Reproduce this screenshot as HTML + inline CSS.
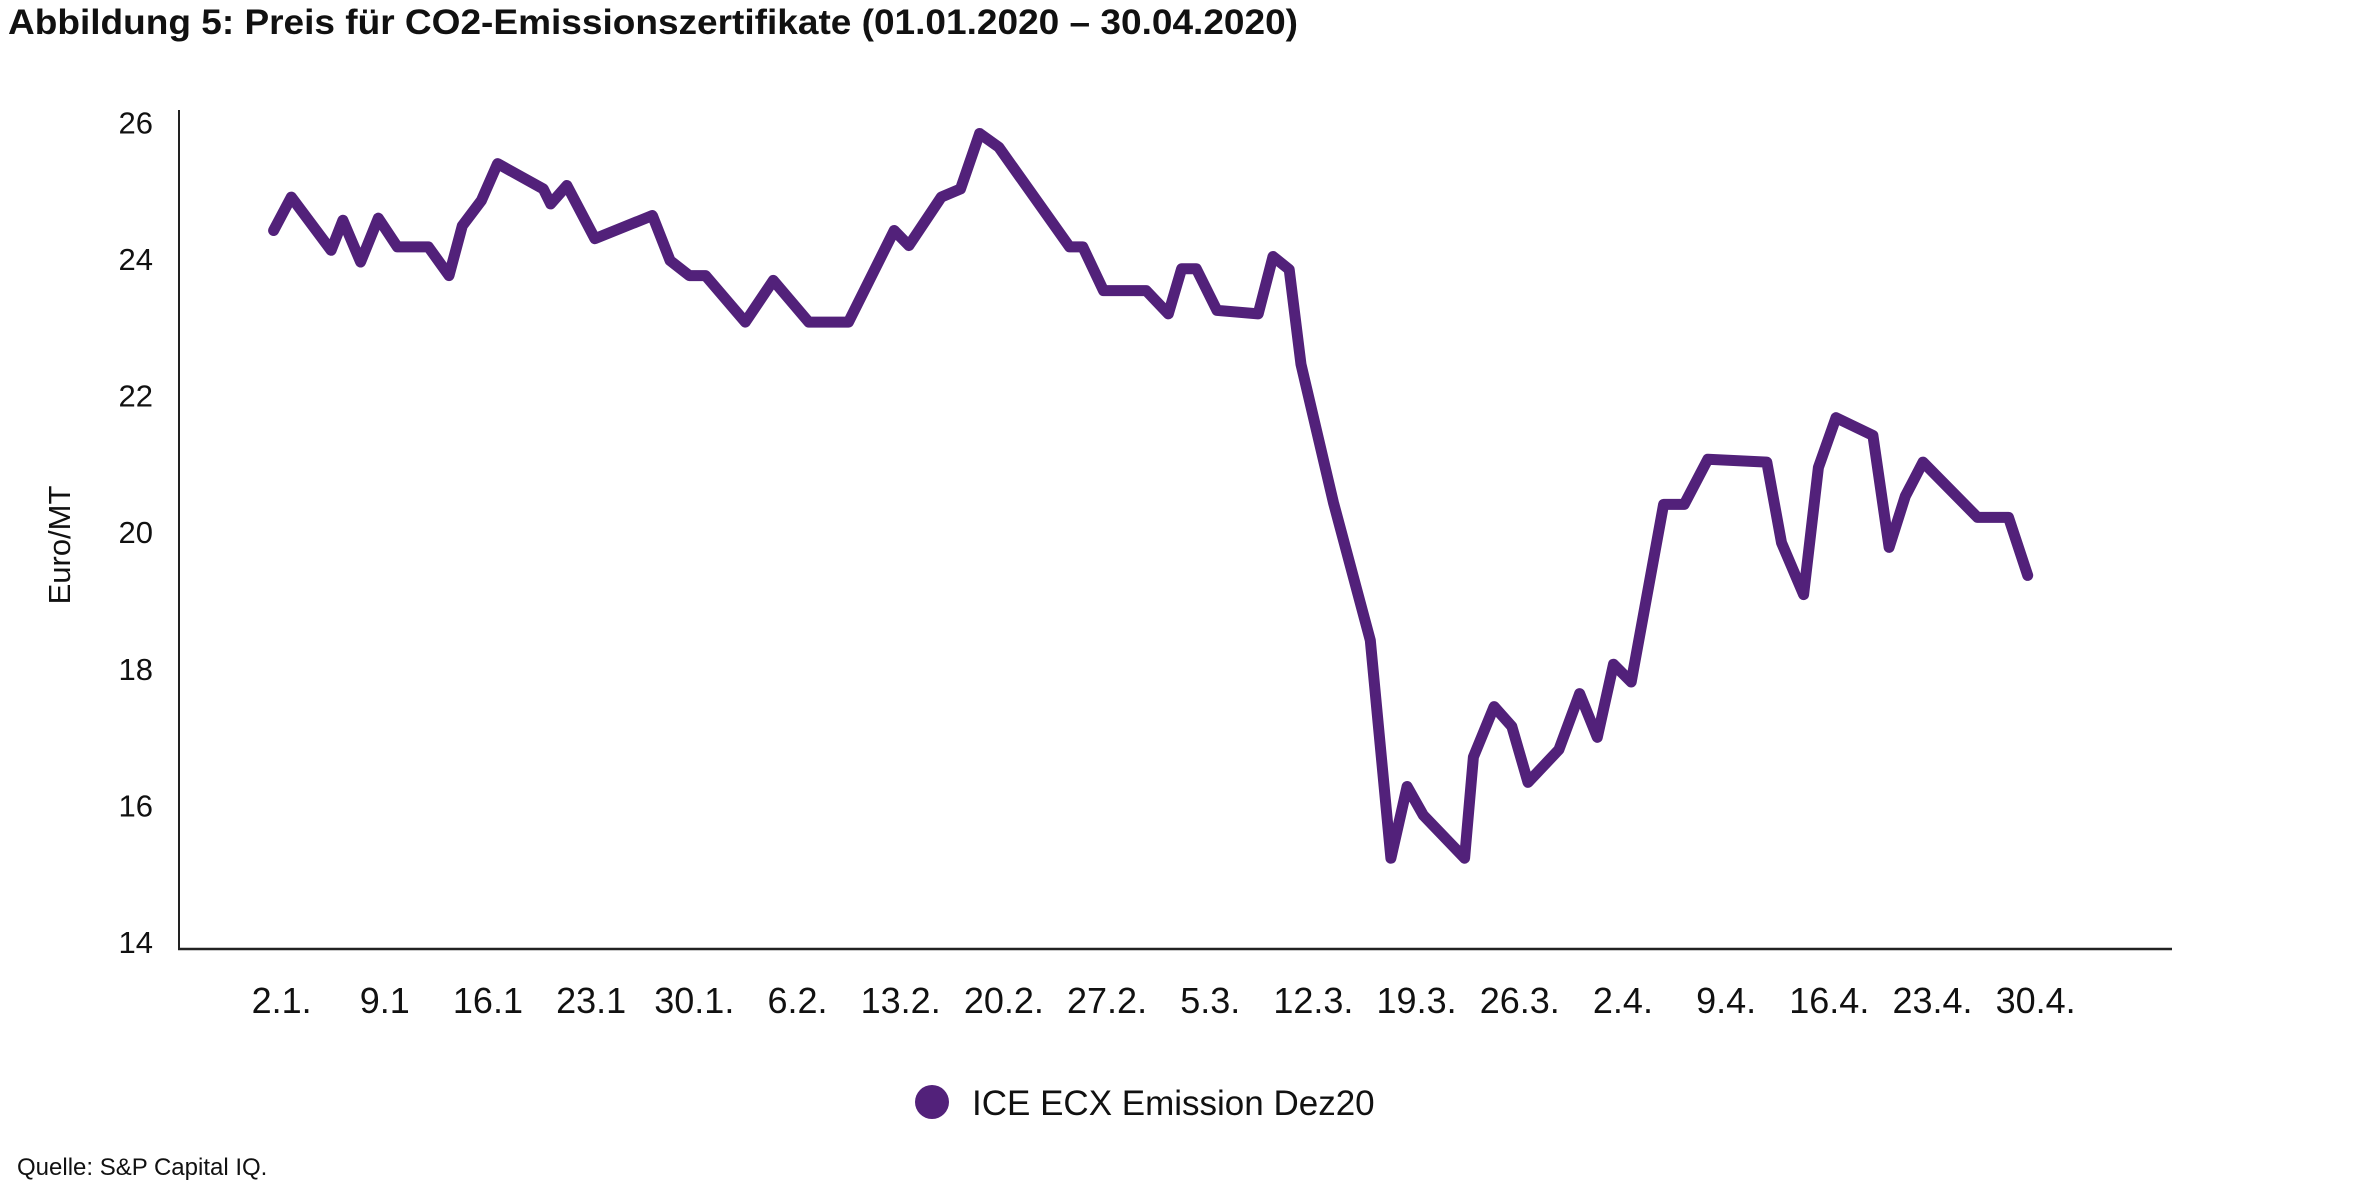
<!DOCTYPE html>
<html><head><meta charset="utf-8"><style>
html,body{margin:0;padding:0;background:#fff;}
svg{display:block;}
text{font-family:"Liberation Sans Narrow","Liberation Sans",sans-serif;fill:#111;}
</style></head><body>
<svg id="chart" width="2362" height="1181" viewBox="0 0 2362 1181">
<text x="8" y="34" font-size="35" font-weight="bold" textLength="1290" lengthAdjust="spacingAndGlyphs" style="font-family:'Liberation Sans',sans-serif">Abbildung 5: Preis für CO2-Emissionszertifikate (01.01.2020 – 30.04.2020)</text>
<g id="axes"></g>
<g id="series"></g>
<text x="0" y="0" font-size="31" transform="translate(70,545) rotate(-90)" text-anchor="middle">Euro/MT</text>
<circle cx="932" cy="1102" r="17" fill="#52217a"/>
<text x="972" y="1115" font-size="35">ICE ECX Emission Dez20</text>
<text x="17" y="1175" font-size="24">Quelle: S&amp;P Capital IQ.</text>
</svg>
<script>
// days since 2 Jan 2020
const dayPos = [0,1.2,3.9,4.7,5.9,7.1,8.4,10.5,11.9,12.8,14.1,15.2,18.3,18.8,19.9,21.8,25.7,26.9,28.2,29.3,32.0,33.9,36.3,39.0,42.1,43.1,45.3,46.6,47.9,49.2,54.0,54.9,56.3,59.2,60.7,61.6,62.6,64.0,66.8,67.8,68.9,69.7,71.9,74.4,75.8,76.9,78.0,80.8,81.4,82.8,84.0,85.1,87.2,88.6,89.8,90.9,92.1,94.3,95.7,97.3,101.3,102.3,103.8,104.8,106.0,108.5,109.6,110.7,111.9,115.6,117.7,119.0];
const prices = [24.49,24.98,24.20,24.64,24.03,24.67,24.25,24.25,23.83,24.56,24.93,25.47,25.10,24.88,25.15,24.37,24.71,24.05,23.83,23.83,23.15,23.76,23.15,23.15,24.49,24.27,24.98,25.10,25.91,25.71,24.25,24.25,23.61,23.61,23.27,23.93,23.93,23.32,23.27,24.11,23.92,22.53,20.51,18.49,15.30,16.35,15.93,15.30,16.78,17.52,17.23,16.41,16.89,17.71,17.07,18.14,17.88,20.48,20.48,21.14,21.10,19.92,19.16,21.02,21.75,21.49,19.85,20.60,21.10,20.29,20.29,19.44];
const xTickDays = [0,7,14,21,28,35,42,49,56,63,70,77,84,91,98,105,112,119];
const xTickLabels = ["2.1.","9.1","16.1","23.1","30.1.","6.2.","13.2.","20.2.","27.2.","5.3.","12.3.","19.3.","26.3.","2.4.","9.4.","16.4.","23.4.","30.4."];
const yTicks = [14,16,18,20,22,24,26];

const NS="http://www.w3.org/2000/svg";
const x = d => 273.6 + d*14.74;
const y = v => 947 - (v-14)*68.3;
const axes=document.getElementById('axes');
const ser=document.getElementById('series');
function mk(tag,attrs,parent){const e=document.createElementNS(NS,tag);for(const k in attrs)e.setAttribute(k,attrs[k]);parent.appendChild(e);return e;}

const ya=mk('line',{x1:179,y1:110,x2:179,y2:949,stroke:'#222','stroke-width':2},axes);


const xa=mk('line',{x1:178,y1:949,x2:2172,y2:949,stroke:'#222','stroke-width':2.5},axes);



yTicks.forEach(v=>{
  const t=mk('text',{x:153,y:y(v)+6,'font-size':31,'text-anchor':'end'},axes);
  t.textContent=v;
  
  
});
xTickDays.forEach((d,i)=>{
  const t=mk('text',{x:x(d)+8,y:1013,'font-size':36,'text-anchor':'middle'},axes);
  t.textContent=xTickLabels[i];
  
  
});
const pts=dayPos.map((d,i)=>x(d).toFixed(1)+','+y(prices[i]).toFixed(1)).join(' ');
const line=mk('polyline',{points:pts,fill:'none',stroke:'#52217a','stroke-width':11,'stroke-linejoin':'round','stroke-linecap':'round'},ser);


</script>
</body></html>
